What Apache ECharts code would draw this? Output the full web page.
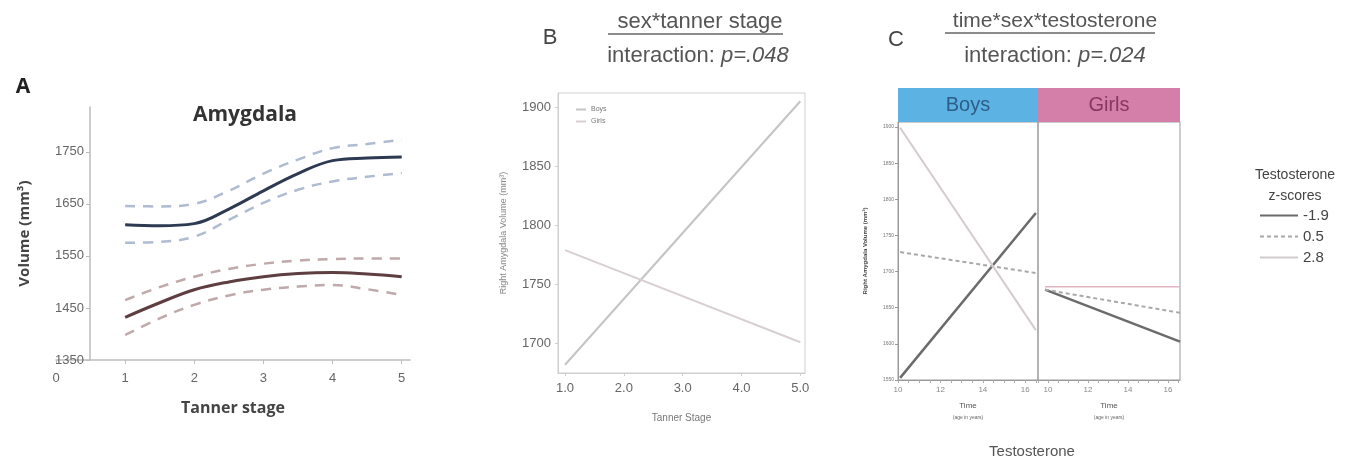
<!DOCTYPE html>
<html>
<head>
<meta charset="utf-8">
<script src="https://cdn.jsdelivr.net/npm/echarts@6/dist/echarts.min.js"></script>
<style>
  html, body { margin: 0; padding: 0; background: #fff; }
  #main { width: 1355px; height: 468px; }
</style>
</head>
<body>
<div id="main"></div>
<script>
// panel A - Amygdala volume by tanner stage (with CI)
var tannerA = [1, 1.5, 2, 2.5, 3, 3.5, 4, 4.5, 5];
var boysMeanA = [1610, 1608, 1612, 1640, 1675, 1708, 1733, 1738, 1740];
var boysUpperA = [1646, 1645, 1650, 1675, 1708, 1735, 1757, 1765, 1773];
var boysLowerA = [1575, 1577, 1587, 1619, 1652, 1677, 1693, 1702, 1709];
var girlsMeanA = [1432, 1460, 1485, 1500, 1510, 1516, 1518, 1515, 1510];
var girlsUpperA = [1465, 1490, 1510, 1525, 1535, 1541, 1544, 1545, 1545];
var girlsLowerA = [1398, 1430, 1456, 1474, 1485, 1491, 1494, 1486, 1475];

// panel B - sex*tanner stage
var tannerB = [1, 5];
var boysB = [1682, 1905];
var girlsB = [1779, 1701];

// panel C - time*sex*testosterone
var zScores = ['-1.9', '0.5', '2.8'];
var ageBoys = [10.1, 16.5];
var ageGirls = [9.85, 16.6];
var boysC = [[1553, 1781], [1727, 1698], [1899, 1619]];
var girlsC = [[1675, 1603], [1675, 1643], [1679, 1679]];

function pairs(xs, ys) {
    return xs.map(function (x, i) { return [x, ys[i]]; });
}
function plain(v) { return String(v); }

var myChart = echarts.init(document.getElementById('main'));

var grayTxt = '#555';

// A series
var series = [
    { name: 'A boys upper', data: pairs(tannerA, boysUpperA), color: '#aebbd0', type: 'dashed', w: 2.5 },
    { name: 'A boys lower', data: pairs(tannerA, boysLowerA), color: '#aebbd0', type: 'dashed', w: 2.5 },
    { name: 'A boys', data: pairs(tannerA, boysMeanA), color: '#2e3a52', type: 'solid', w: 3 },
    { name: 'A girls upper', data: pairs(tannerA, girlsUpperA), color: '#bfa9aa', type: 'dashed', w: 2.5 },
    { name: 'A girls lower', data: pairs(tannerA, girlsLowerA), color: '#bfa9aa', type: 'dashed', w: 2.5 },
    { name: 'A girls', data: pairs(tannerA, girlsMeanA), color: '#5e3e41', type: 'solid', w: 3 }
].map(function (s) {
    return {
        name: s.name,
        type: 'line',
        xAxisIndex: 0, yAxisIndex: 0,
        smooth: 0.4,
        symbol: 'none',
        silent: true,
        data: s.data,
        lineStyle: { color: s.color, width: s.w, type: s.type === 'dashed' ? [10, 8] : 'solid' }
    };
});

// B series
series.push({
    name: 'Boys', type: 'line', xAxisIndex: 1, yAxisIndex: 1, symbol: 'none',
    data: pairs(tannerB, boysB), color: '#c4c4c8',
    lineStyle: { color: '#c4c4c8', width: 2 }
});
series.push({
    name: 'Girls', type: 'line', xAxisIndex: 1, yAxisIndex: 1, symbol: 'none',
    data: pairs(tannerB, girlsB), color: '#d8d0d0',
    lineStyle: { color: '#d8d0d0', width: 2 }
});

// C series
var cStyles = [
    { color: '#6b6b6b', width: 2.5, type: 'solid' },
    { color: '#a8a8a8', width: 2, type: [4, 3] },
    { color: '#d2ccd0', width: 2, type: 'solid' }
];
var girlsHighColor = '#e2b4bf';
zScores.forEach(function (z, i) {
    series.push({
        name: z, type: 'line', xAxisIndex: 2, yAxisIndex: 2, symbol: 'none',
        data: pairs(ageBoys, boysC[i]), color: cStyles[i].color,
        lineStyle: { color: cStyles[i].color, width: cStyles[i].width, type: cStyles[i].type }
    });
    series.push({
        name: z, type: 'line', xAxisIndex: 3, yAxisIndex: 3, symbol: 'none',
        data: pairs(ageGirls, girlsC[i]),
        lineStyle: { color: i === 2 ? girlsHighColor : cStyles[i].color, width: i === 2 ? 1.5 : cStyles[i].width, type: cStyles[i].type }
    });
});

var timeName = {
    name: 'Time\n{s|(age in years)}',
    nameLocation: 'middle',
    nameGap: 20,
    nameTextStyle: { fontSize: 8, color: '#555', lineHeight: 12, rich: { s: { fontSize: 5, color: '#666' } } }
};

myChart.setOption({
    animation: false,
    backgroundColor: '#fff',
    textStyle: { fontFamily: 'Liberation Sans, Arial, sans-serif' },
    title: [
        { text: 'Amygdala', left: 240, top: 100, textAlign: 'center',
          textStyle: { fontFamily: 'Open Sans', fontWeight: 'bold', fontSize: 21, color: '#333' } },
        { text: 'sex*tanner stage', left: 695, top: 6, textAlign: 'center',
          textStyle: { fontSize: 22, fontWeight: 'normal', color: grayTxt } },
        { text: 'interaction: {i|p=.048}', left: 693, top: 40, textAlign: 'center',
          textStyle: { fontSize: 22, fontWeight: 'normal', color: grayTxt, rich: { i: { fontSize: 22, fontStyle: 'italic', color: grayTxt } } } },
        { text: 'time*sex*testosterone', left: 1050, top: 6, textAlign: 'center',
          textStyle: { fontSize: 21, fontWeight: 'normal', color: grayTxt } },
        { text: 'interaction: {i|p=.024}', left: 1050, top: 40, textAlign: 'center',
          textStyle: { fontSize: 22, fontWeight: 'normal', color: grayTxt, rich: { i: { fontSize: 22, fontStyle: 'italic', color: grayTxt } } } },
        { text: 'Testosterone\nz-scores', left: 1290, top: 160, textAlign: 'center',
          textStyle: { fontSize: 14, fontWeight: 'normal', color: '#444', lineHeight: 21 } }
    ],
    legend: [
        { data: ['Boys', 'Girls'], orient: 'vertical', left: 570, top: 101, itemWidth: 10, itemHeight: 2,
          itemGap: 5, textStyle: { fontSize: 7, color: '#777' }, selectedMode: false,
          itemStyle: { opacity: 0 } },
        { data: zScores, orient: 'vertical', left: 1254, top: 203, itemWidth: 38, itemHeight: 10,
          itemGap: 6, textStyle: { fontSize: 15, color: '#444' }, selectedMode: false,
          itemStyle: { opacity: 0 } }
    ],
    grid: [
        { left: 56, right: 945, top: 107, bottom: 108 },
        { left: 558, right: 550, top: 93, bottom: 95, show: true, borderColor: '#cfcfcf', borderWidth: 1, backgroundColor: 'transparent' },
        { left: 898, width: 140, top: 122, bottom: 88, show: true, borderColor: '#9a9a9a', borderWidth: 1, backgroundColor: 'transparent' },
        { left: 1038, width: 142, top: 122, bottom: 88, show: true, borderColor: '#9a9a9a', borderWidth: 1, backgroundColor: 'transparent' }
    ],
    xAxis: [
        { gridIndex: 0, type: 'value', min: 0, max: 5.12, interval: 1,
          name: 'Tanner stage', nameLocation: 'middle', nameGap: 40,
          nameTextStyle: { fontFamily: 'Open Sans', fontWeight: 'bold', fontSize: 16, color: '#444' },
          axisLine: { lineStyle: { color: '#bdbdbd', width: 1.5 } },
          axisTick: { show: true, length: 4, lineStyle: { color: '#bdbdbd' } },
          axisLabel: { fontSize: 13, color: '#666', margin: 12, showMaxLabel: false, formatter: plain },
          splitLine: { show: false } },
        { gridIndex: 1, type: 'value', min: 0.88, max: 5.08,
          name: 'Tanner Stage', nameLocation: 'middle', nameGap: 40,
          nameTextStyle: { fontSize: 10, color: '#777' },
          axisLine: { lineStyle: { color: '#cfcfcf' } },
          axisTick: { show: true, length: 3, lineStyle: { color: '#cfcfcf' } },
          axisLabel: { fontSize: 13, color: '#666', margin: 9, showMinLabel: false, showMaxLabel: false,
                       formatter: function (v) { return v.toFixed(1); } },
          splitLine: { show: false } },
        Object.assign({ gridIndex: 2, type: 'value', min: 10, max: 16.6, interval: 0.5,
          axisLine: { lineStyle: { color: '#9a9a9a' } },
          axisTick: { show: true, length: 3, lineStyle: { color: '#aaa' } },
          axisLabel: { fontSize: 8, color: '#888', margin: 6, showMaxLabel: false,
                       formatter: function (v) { return v % 2 === 0 ? String(v) : ''; } },
          splitLine: { show: false } }, timeName),
        Object.assign({ gridIndex: 3, type: 'value', min: 9.5, max: 16.6, interval: 0.5,
          axisLine: { lineStyle: { color: '#9a9a9a' } },
          axisTick: { show: true, length: 3, lineStyle: { color: '#aaa' } },
          axisLabel: { fontSize: 8, color: '#888', margin: 6, showMaxLabel: false,
                       formatter: function (v) { return v % 2 === 0 ? String(v) : ''; } },
          splitLine: { show: false } }, timeName)
    ],
    yAxis: [
        { gridIndex: 0, type: 'value', min: 1350, max: 1836, interval: 100, offset: -34,
          name: 'Volume (mm³)', nameLocation: 'middle', nameGap: 58,
          nameTextStyle: { fontFamily: 'Open Sans', fontWeight: 'bold', fontSize: 15, color: '#444' },
          axisLine: { show: true, lineStyle: { color: '#bdbdbd', width: 1.5 } },
          axisTick: { show: true, length: 4, lineStyle: { color: '#bdbdbd' } },
          axisLabel: { fontSize: 13, color: '#666', margin: 6, showMaxLabel: false, formatter: plain },
          splitLine: { show: false } },
        { gridIndex: 1, type: 'value', min: 1675, max: 1912, splitNumber: 5,
          name: 'Right Amygdala Volume (mm³)', nameLocation: 'middle', nameGap: 50,
          nameTextStyle: { fontSize: 9, color: '#888' },
          axisLine: { show: true, lineStyle: { color: '#cfcfcf' } },
          axisTick: { show: true, length: 3, lineStyle: { color: '#cfcfcf' } },
          axisLabel: { fontSize: 13, color: '#666', margin: 7, showMinLabel: false, showMaxLabel: false, formatter: plain },
          splitLine: { show: false } },
        { gridIndex: 2, type: 'value', min: 1550, max: 1907, interval: 50,
          name: 'Right Amygdala Volume (mm³)', nameLocation: 'middle', nameGap: 30,
          nameTextStyle: { fontSize: 6, fontWeight: 'bold', color: '#444' },
          axisLine: { show: true, lineStyle: { color: '#9a9a9a' } },
          axisTick: { show: true, length: 3, lineStyle: { color: '#999' } },
          axisLabel: { fontSize: 5, color: '#777', margin: 4, showMaxLabel: false, formatter: plain },
          splitLine: { show: false } },
        { gridIndex: 3, type: 'value', min: 1550, max: 1907, interval: 50,
          axisLine: { show: false }, axisTick: { show: false }, axisLabel: { show: false },
          splitLine: { show: false } }
    ],
    graphic: [
        { type: 'text', style: { x: 23, y: 87, text: 'A', font: 'bold 21px "Open Sans"', fill: '#222', align: 'center', verticalAlign: 'middle' } },
        { type: 'text', style: { x: 550, y: 38, text: 'B', font: '22px "Liberation Sans"', fill: '#444', align: 'center', verticalAlign: 'middle' } },
        { type: 'text', style: { x: 896, y: 40, text: 'C', font: '22px "Liberation Sans"', fill: '#444', align: 'center', verticalAlign: 'middle' } },
        { type: 'line', shape: { x1: 608, y1: 34, x2: 783, y2: 34 }, style: { stroke: '#666', lineWidth: 1.5 } },
        { type: 'line', shape: { x1: 945, y1: 33, x2: 1155, y2: 33 }, style: { stroke: '#666', lineWidth: 1.5 } },
        { type: 'rect', shape: { x: 898, y: 88, width: 140, height: 34 }, style: { fill: '#5cb3e3' } },
        { type: 'rect', shape: { x: 1038, y: 88, width: 142, height: 34 }, style: { fill: '#d47eaa' } },
        { type: 'text', style: { x: 968, y: 105, text: 'Boys', font: '20px "Liberation Sans"', fill: '#2d5d86', align: 'center', verticalAlign: 'middle' } },
        { type: 'text', style: { x: 1109, y: 105, text: 'Girls', font: '20px "Liberation Sans"', fill: '#88385f', align: 'center', verticalAlign: 'middle' } },
        { type: 'text', style: { x: 1032, y: 452, text: 'Testosterone', font: '15px "Liberation Sans"', fill: '#555', align: 'center', verticalAlign: 'middle' } }
    ],
    series: series
});
</script>
</body>
</html>
